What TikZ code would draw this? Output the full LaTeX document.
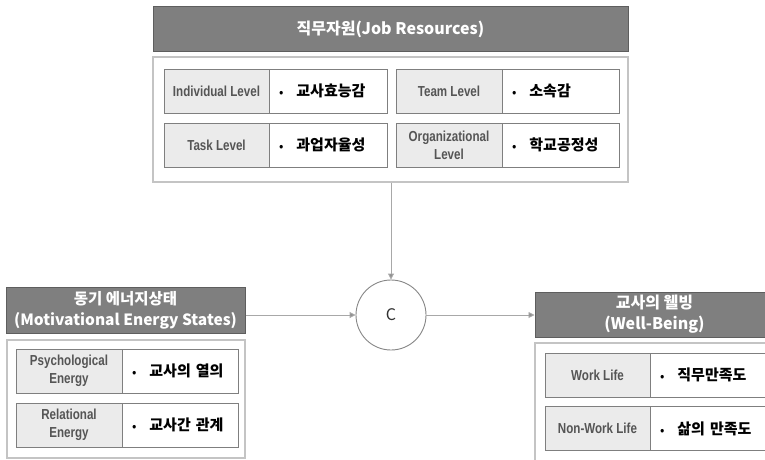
\documentclass[tikz,border=0pt]{standalone}
\usepackage{fontspec}
\setmainfont{Noto Sans CJK KR}
\newfontfamily\lbl[FakeStretch=0.8]{Liberation Sans}
\usetikzlibrary{arrows.meta}
\definecolor{headfill}{HTML}{7F7F7F}
\definecolor{headline}{HTML}{5E5E5E}
\definecolor{cellfill}{HTML}{EBEBEB}
\definecolor{cellline}{HTML}{7F7F7F}
\definecolor{boxline}{HTML}{C4C4C4}
\definecolor{lbltext}{HTML}{555555}
\definecolor{conn}{HTML}{A8A8A8}
\tikzset{
  head/.style={draw=headline, fill=headfill, line width=1pt, text=white, align=center,
    font=\bfseries\fontsize{16}{21}\selectfont, inner sep=0pt},
  outer/.style={draw=boxline, fill=white, line width=1.2pt, inner sep=0pt},
  lblcell/.style={draw=cellline, fill=cellfill, line width=0.9pt, text=lbltext, align=center,
    font=\lbl\bfseries\fontsize{14.5}{18}\selectfont, minimum height=44pt, inner sep=0pt},
  valcell/.style={draw=cellline, fill=white, line width=0.9pt, align=left, text width=#1,
    font=\bfseries\fontsize{15}{18}\selectfont, minimum height=44pt, inner xsep=10pt, inner ysep=0pt},
  conn/.style={draw=conn, line width=0.9pt, -{Triangle[length=6pt,width=6pt,fill=conn!85!black]}},
}
\newcommand{\itm}[1]{{\fontsize{11}{11}\selectfont\textbullet}\hspace{13pt}#1}
\begin{document}
\begin{tikzpicture}[x=1pt,y=-1pt]
\useasboundingbox (0,0) rectangle (765,460);
\clip (0,0) rectangle (765,460);

% Job resources block
\node[outer, minimum width=475pt, minimum height=125pt] (jrbox) at (390.5,119.5) {};
\node[head, minimum width=475pt, minimum height=45pt] (jrhead) at (390.5,29.5) {직무자원(Job Resources)};
\node[lblcell, minimum width=105pt] (indl) at (216.5,91) {Individual Level};
\node[valcell=98pt] (indv) at (328,91) {\itm{교사효능감}};
\node[lblcell, minimum width=106pt] (teaml) at (449,91) {Team Level};
\node[valcell=97pt] (teamv) at (560.5,91) {\itm{소속감}};
\node[lblcell, minimum width=105pt] (taskl) at (216.5,145) {Task Level};
\node[valcell=98pt] (taskv) at (328,145) {\itm{과업자율성}};
\node[lblcell, minimum width=106pt] (orgl) at (449,145) {Organizational\\Level};
\node[valcell=97pt] (orgv) at (560.5,145) {\itm{학교공정성}};

% Combination node
\node[draw=conn!80!black, line width=0.9pt, circle, minimum size=70pt, inner sep=0pt,
  font=\fontsize{16}{18}\selectfont, text=black!80] (c) at (391,315) {C};

% Motivational energy block
\node[outer, minimum width=238pt, minimum height=118pt] (mebox) at (126,399) {};
\node[head, minimum width=239pt, minimum height=46pt, font=\bfseries\fontsize{15.5}{21}\selectfont] (mehead) at (125.5,310) {동기 에너지상태\\(Motivational Energy States)};
\node[lblcell, minimum width=106pt] (psyl) at (69,371) {Psychological\\Energy};
\node[valcell=96pt] (psyv) at (180,371) {\itm{교사의 열의}};
\node[lblcell, minimum width=106pt] (rell) at (69,425) {Relational\\Energy};
\node[valcell=96pt] (relv) at (180,425) {\itm{교사간 관계}};

% Well-being block
\node[outer, minimum width=239pt, minimum height=122pt] (wbbox) at (654.5,404) {};
\node[head, minimum width=239pt, minimum height=45pt] (wbhead) at (654.5,314.5) {교사의 웰빙\\(Well-Being)};
\node[lblcell, minimum width=105pt] (workl) at (597.5,375) {Work Life};
\node[valcell=97pt] (workv) at (708.5,375) {\itm{직무만족도}};
\node[lblcell, minimum width=105pt] (nonl) at (597.5,428.5) {Non-Work Life};
\node[valcell=97pt] (nonv) at (708.5,428.5) {\itm{삶의 만족도}};

% Connectors
\draw[conn] (jrbox.south -| c.north) -- (c.north);
\draw[conn] (c.west -| mebox.east) -- (c.west);
\draw[conn] (c.east) -- (c.east -| wbhead.west);
\end{tikzpicture}
\end{document}
